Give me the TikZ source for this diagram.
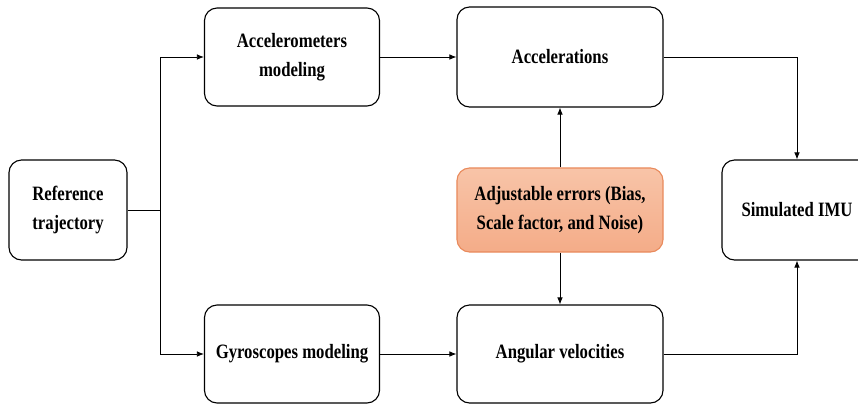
\documentclass[tikz,border=0pt]{standalone}
\usepackage{fontspec}
\setmainfont{Liberation Serif}[FakeStretch=0.82]
\usetikzlibrary{arrows.meta}

\definecolor{errfill}{HTML}{F4AC88}
\definecolor{errtop}{HTML}{F8C4A8}
\definecolor{errline}{HTML}{E98A5C}

\tikzset{
  box/.style={draw, line width=0.8pt, rounded corners=9pt, align=center,
    font=\bfseries\fontsize{14.5}{21}\selectfont},
  errbox/.style={box, draw=errline, top color=errtop, bottom color=errfill},
  arr/.style={-{Latex[length=5pt,width=4pt]}, line width=0.6pt}
}

\begin{document}
\begin{tikzpicture}[x=0.025cm, y=-0.025cm]
  \useasboundingbox (0,0) rectangle (858,403);
  \clip (0,0) rectangle (858,403);
  % blocks
  \node[box, minimum width=2.95cm, minimum height=2.5cm] (ref) at (68,210) {Reference\\trajectory};
  \node[box, minimum width=4.375cm, minimum height=2.45cm] (acm) at (292,57) {Accelerometers\\modeling};
  \node[box, minimum width=4.375cm, minimum height=2.45cm] (gyr) at (292,354) {Gyroscopes modeling};
  \node[box, minimum width=5.15cm, minimum height=2.5cm] (acc) at (560,57) {Accelerations};
  \node[box, minimum width=5.15cm, minimum height=2.45cm] (ang) at (560,354) {Angular velocities};
  \node[errbox, minimum width=5.15cm, minimum height=2.1cm] (err) at (560,210) {Adjustable errors (Bias,\\Scale factor, and Noise)};
  \node[box, minimum width=3.75cm, minimum height=2.5cm] (imu) at (797,210) {Simulated IMU};
  % connectors
  \coordinate (split) at (160,210);
  \draw[line width=0.6pt] (ref) -- (split);
  \draw[arr] (split) |- (acm);
  \draw[arr] (split) |- (gyr);
  \draw[arr] (acm) -- (acc);
  \draw[arr] (gyr) -- (ang);
  \draw[arr] (err) -- (acc);
  \draw[arr] (err) -- (ang);
  \draw[arr] (acc.east) -| (imu);
  \draw[arr] (ang.east) -| (imu);
\end{tikzpicture}
\end{document}
